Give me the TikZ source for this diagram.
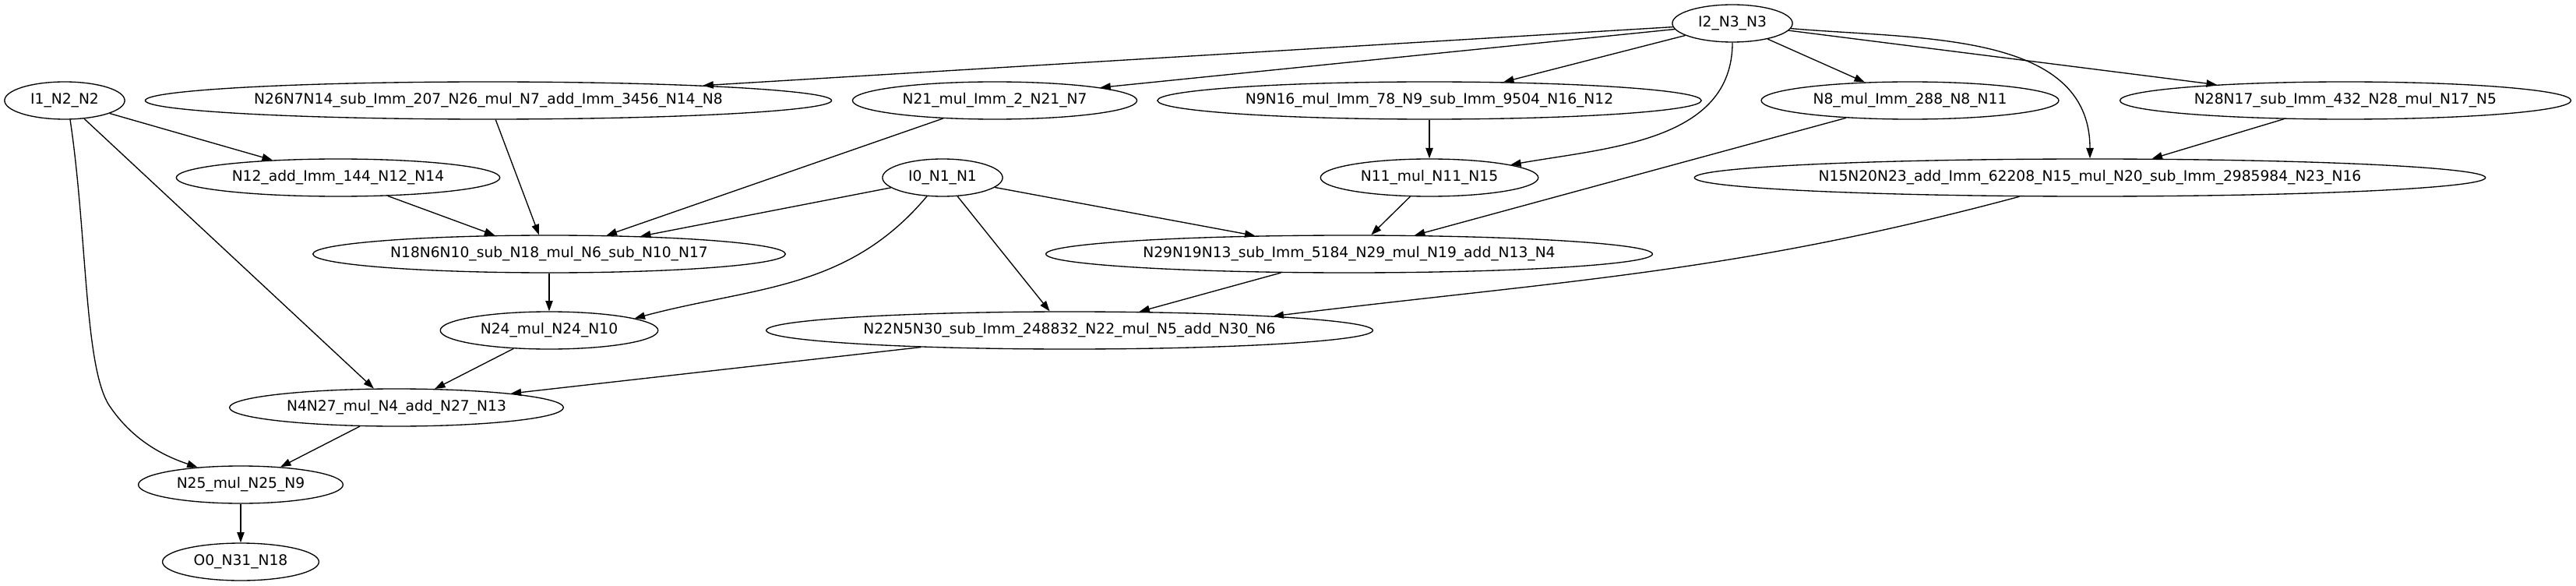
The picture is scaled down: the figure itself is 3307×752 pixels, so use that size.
\documentclass[tikz,border=0pt]{standalone}
\usepackage{fontspec}
\setmainfont{DejaVu Sans}
\usetikzlibrary{shapes.geometric,arrows.meta}

\begin{document}
\begin{tikzpicture}[
    x=0.75pt, y=-0.75pt,
    op/.style={ellipse, draw=black, line width=1pt, inner xsep=8pt, inner ysep=0pt, minimum height=36pt, font=\fontsize{14}{16}\selectfont},
    arrow/.style={draw, line width=1pt, -{Triangle[length=10pt,width=7pt]}}
]
    \useasboundingbox (0,0) rectangle (3307,752);
    % rows of the graph, top to bottom
    \node[op] (i2) at (2224,30) {I2\_N3\_N3};
    \node[op] (i1) at (83,129) {I1\_N2\_N2};
    \node[op] (n26) at (627,129) {N26N7N14\_sub\_Imm\_207\_N26\_mul\_N7\_add\_Imm\_3456\_N14\_N8};
    \node[op] (n21) at (1277,129) {N21\_mul\_Imm\_2\_N21\_N7};
    \node[op] (n9) at (1835,129) {N9N16\_mul\_Imm\_78\_N9\_sub\_Imm\_9504\_N16\_N12};
    \node[op] (n8) at (2452,129) {N8\_mul\_Imm\_288\_N8\_N11};
    \node[op] (n28) at (3011,129) {N28N17\_sub\_Imm\_432\_N28\_mul\_N17\_N5};
    \node[op] (n12) at (434,228) {N12\_add\_Imm\_144\_N12\_N14};
    \node[op] (i0) at (1210,228) {I0\_N1\_N1};
    \node[op] (n11) at (1835,228) {N11\_mul\_N11\_N15};
    \node[op] (n15) at (2683,228) {N15N20N23\_add\_Imm\_62208\_N15\_mul\_N20\_sub\_Imm\_2985984\_N23\_N16};
    \node[op] (n18) at (705,326) {N18N6N10\_sub\_N18\_mul\_N6\_sub\_N10\_N17};
    \node[op] (n29) at (1732,326) {N29N19N13\_sub\_Imm\_5184\_N29\_mul\_N19\_add\_N13\_N4};
    \node[op] (n24) at (705,424) {N24\_mul\_N24\_N10};
    \node[op] (n22) at (1373,424) {N22N5N30\_sub\_Imm\_248832\_N22\_mul\_N5\_add\_N30\_N6};
    \node[op] (n4) at (509,523) {N4N27\_mul\_N4\_add\_N27\_N13};
    \node[op] (n25) at (309,622) {N25\_mul\_N25\_N9};
    \node[op] (o0) at (309,721) {O0\_N31\_N18};
    % edges out of the inputs
    \path [arrow] (i2) -- (n26.4);
    \path [arrow] (i2) -- (n21.7);
    \path [arrow] (i2) -- (n9.14);
    \draw [arrow] (i2) to[out=-90, in=10] (n11.9);
    \path [arrow] (i2) -- (n8.158);
    \draw [arrow] (i2) to[out=-5, in=90] (n15.north);
    \path [arrow] (i2) -- (n28.173);
    \path [arrow] (i1) -- (n12.165);
    \path [arrow] (i1) -- (n4.140);
    \draw [arrow] (i1.286) .. controls (112,300) and (108,470) .. (140,520) .. controls (170,565) and (210,585) .. (n25.158);
    \path [arrow] (i0) -- (n18.11);
    \draw [arrow] (i0) to[out=230, in=15] (n24.8);
    \path [arrow] (i0) -- (n22.136);
    \path [arrow] (i0) -- (n29.169);
    % inner edges
    \path [arrow] (n26) -- (n18.118);
    \path [arrow] (n12) -- (n18.161);
    \path [arrow] (n21) -- (n18.18);
    \path [arrow] (n9) -- (n11);
    \path [arrow] (n11) -- (n29.41);
    \path [arrow] (n8) -- (n29.16);
    \path [arrow] (n28) -- (n15.17);
    \path [arrow] (n18) -- (n24);
    \path [arrow] (n29) -- (n22.15);
    \draw [arrow] (n15) to[out=195, in=7] (n22.4);
    \path [arrow] (n22) -- (n4.7);
    \path [arrow] (n24) -- (n4.26);
    \path [arrow] (n4) -- (n25.24);
    \path [arrow] (n25) -- (o0);
\end{tikzpicture}
\end{document}
